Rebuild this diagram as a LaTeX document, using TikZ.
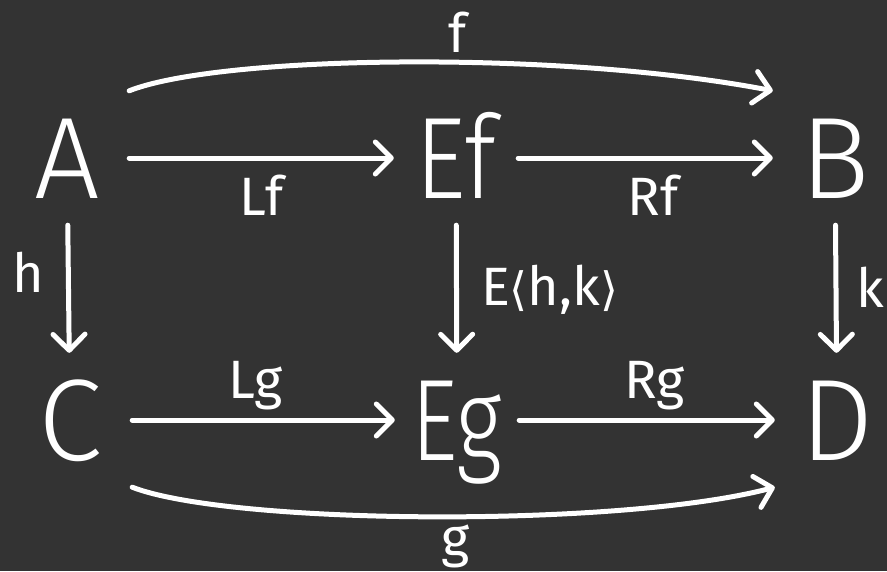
\documentclass[tikz,border=0pt]{standalone}
\usepackage{fontspec}
\setmainfont{Fira Sans}
\newfontfamily\objfont{Fira Sans Light}
\newfontfamily\bracketfont{DejaVu Sans}
\usetikzlibrary{arrows.meta}
\definecolor{boardgrey}{HTML}{333333}
\newcommand{\lang}{{\bracketfont\fontsize{46}{46}\selectfont ⟨}}
\newcommand{\rang}{{\bracketfont\fontsize{46}{46}\selectfont ⟩}}

\begin{document}
\begin{tikzpicture}[
  x=1pt, y=-1pt,
  obj/.style={text=white, inner sep=0pt, minimum width=124pt, minimum height=134pt,
    font=\objfont\fontsize{116}{116}\selectfont, text height=80pt, text depth=0pt},
  lbl/.style={text=white, inner sep=0pt,
    font=\fontsize{54}{54}\selectfont},
  arr/.style={draw=white, line width=5pt, line cap=round,
    -{Straight Barb[length=16pt, width=32pt, round]}}
]
\useasboundingbox (0,0) rectangle (887,571);
\fill[boardgrey] (0,0) rectangle (887,571);

% Objects of the square.
\node[obj] (A)  at (67,158)  {A};
\node[obj] (Ef) at (456,158) {\scalebox{0.85}[1]{Ef}};
\node[obj] (B)  at (835,158) {B};
\node[obj] (C)  at (70,420)  {C};
\node[obj] (Eg) at (457,420) {\scalebox{0.78}[1]{Eg}};
\node[obj] (D)  at (837,420) {D};

% Horizontal factorisations.
\draw[arr] (A) -- (Ef) node[lbl, midway, anchor=base, yshift=-57pt] {Lf};
\draw[arr] (Ef) -- (B) node[lbl, pos=0.53, anchor=base, yshift=-57pt] {Rf};
\draw[arr] (C) -- (Eg) node[lbl, pos=0.47, anchor=base, yshift=22pt] {Lg};
\draw[arr] (Eg) -- (D) node[lbl, pos=0.53, anchor=base, yshift=22pt] {Rg};

% Vertical maps.
\draw[arr] (A) -- (C) node[lbl, midway, anchor=base east, xshift=-22pt, yshift=-3pt] {h};
\draw[arr] (Ef) -- (Eg) node[lbl, midway, anchor=base west, xshift=22pt, yshift=-16pt]
  {E\lang h,k\rang};
\draw[arr] (B) -- (D) node[lbl, midway, anchor=base west, xshift=18pt, yshift=-18pt] {k};

% Composites f and g.
\draw[arr] (A.north east) .. controls (220,55) and (560,50) .. (B.north west)
  node[lbl, pos=0.57, anchor=base, yshift=10pt] {f};
\draw[arr] (C.south east) .. controls (230,525) and (620,528) .. (D.south west)
  node[lbl, pos=0.53, anchor=base, yshift=-40pt] {g};
\end{tikzpicture}
\end{document}
